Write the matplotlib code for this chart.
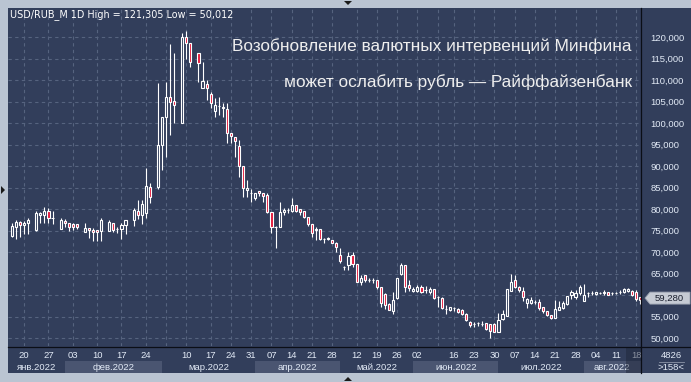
import matplotlib
matplotlib.use("Agg")
import matplotlib.pyplot as plt
from matplotlib.patches import Rectangle, Polygon
from matplotlib.lines import Line2D
from matplotlib.transforms import IdentityTransform

plt.rcParams['font.family'] = ['Liberation Sans', 'DejaVu Sans']

# daily candles, one slot per session; None = empty slot on the chart
opens = [73.7, 75.9, 76.9, 76.2, 76.7, None,
         75.0, 78.5, 78.5, 79.5, 77.8, None,
         75.4, 77.3, 76.7, 76.4, 76.4, None,
         74.7, 75.5, 75.1, 75.1, 74.9, None,
         74.9, 76.8, 75.3, 75.3, 76.2, None,
         77.5, 79.6, 78.5, 79.0, 85.2, None,
         85.2, 94.9, 101.3, 106.0, 105.1, None,
         100.1, 120.1, 118.5, None,
         116.2, 108.2, 109.0, 106.7, 102.9, 104.0, 103.4, 103.2, 97.7, 96.8,
         94.7, 89.9, 84.4, 83.7, 82.5, 84.3, 83.8, 83.3, 79.4, 75.9,
         75.75, 79.2, 79.8, 79.6, 80.9, 80.1, 79.5, 78.2, 76.4, 75.0,
         75.3, 73.1, 73.0, 72.8, 72.2, 69.3, 66.4, 67.0, 69.2, 67.2,
         63.1, 64.7, 63.5, 63.5, 63.5, 61.8, 60.2, 57.9, 56.3, 59.2,
         64.9, 67.0, 62.3, 61.0, 61.0, 61.8, 61.2, 60.8, 61.3, 59.5,
         59.2, 56.7, 56.5, 56.9, 56.7, 56.5, 55.6, 53.8, 53.3, 53.4,
         53.2, 53.4, 53.3, 53.3, 51.5, 54.4, 55.1, 61.0, 63.5, 61.9,
         61.0, 58.2, 58.2, 58.4, 58.4, 57.1, 56.3, 55.3, 54.6, 56.4,
         56.9, 57.9, 60.0, 59.5, 60.5, 58.5, 60.4, 60.5, 60.2, 60.5,
         60.4, 60.8, 60.4, 60.5, 60.8, 60.6, 61.0, 61.0, 60.8, 59.6]
highs = [76.8, 77.4, 77.3, 77.1, 77.8, None,
         79.6, 79.4, 80.4, 80.2, 79.5, None,
         77.8, 77.6, 76.8, 76.7, 76.6, None,
         76.8, 75.5, 75.5, 75.1, 77.8, None,
         77.4, 76.8, 75.7, 76.7, 77.4, None,
         80.2, 82.1, 82.1, 89.5, 86.0, None,
         109.2, 101.3, 109.6, 118.4, 116.2, None,
         120.9, 121.305, 118.5, None,
         116.2, 114.3, 110.0, 107.3, 105.7, 106.1, 104.7, 104.6, 97.7, 96.8,
         96.1, 89.9, 86.75, 84.6, 83.8, 84.3, 83.8, 83.8, 79.4, 76.0,
         81.7, 80.2, 80.2, 82.5, 80.9, 80.1, 79.5, 78.2, 76.4, 75.7,
         75.3, 73.2, 73.4, 72.8, 72.4, 70.9, 66.8, 70.1, 70.1, 67.2,
         64.7, 64.7, 63.9, 63.9, 63.6, 61.8, 60.4, 58.2, 60.8, 64.0,
         67.5, 67.0, 63.5, 61.9, 62.3, 62.3, 62.1, 61.8, 61.3, 59.8,
         59.6, 57.7, 57.3, 57.3, 56.9, 56.7, 55.7, 53.9, 53.8, 53.7,
         54.0, 53.4, 53.3, 53.4, 55.9, 56.5, 61.3, 64.9, 64.6, 62.1,
         61.8, 59.2, 59.5, 58.8, 59.0, 57.3, 56.3, 55.4, 58.8, 58.5,
         58.5, 59.8, 61.2, 61.2, 62.3, 62.6, 60.8, 61.0, 60.8, 60.8,
         61.2, 60.8, 60.6, 60.8, 61.2, 61.6, 61.6, 61.2, 61.2, 59.6]
lows = [73.6, 73.0, 73.6, 74.2, 74.3, None,
        75.0, 76.8, 76.7, 76.7, 76.5, None,
        75.4, 75.9, 74.9, 75.1, 75.3, None,
        74.7, 73.2, 72.6, 72.6, 72.6, None,
        74.9, 74.7, 74.4, 73.0, 74.3, None,
        76.0, 77.6, 76.4, 77.8, 81.5, None,
        84.6, 89.0, 92.0, 97.2, 99.9, None,
        100.1, 115.0, 113.0, None,
        109.6, 108.2, 105.4, 103.4, 101.5, 101.9, 101.5, 95.4, 95.4, 92.0,
        87.5, 82.9, 82.9, 81.7, 82.1, 83.0, 81.7, 79.0, 74.35, 71.0,
        75.75, 78.6, 79.0, 79.4, 79.4, 78.6, 78.0, 76.1, 73.6, 72.8,
        72.8, 72.0, 72.9, 72.0, 70.1, 67.5, 65.8, 65.8, 66.4, 63.1,
        62.3, 63.1, 63.1, 62.9, 61.5, 57.1, 56.7, 56.4, 55.6, 59.0,
        64.7, 60.8, 61.0, 60.8, 60.8, 60.4, 60.4, 60.2, 59.0, 57.1,
        56.7, 55.6, 56.3, 56.3, 55.9, 55.4, 54.0, 52.6, 52.6, 52.8,
        52.8, 51.9, 50.012, 51.3, 51.3, 54.2, 55.1, 61.0, 61.6, 60.6,
        58.5, 56.9, 57.9, 57.8, 56.5, 55.9, 55.1, 54.5, 54.6, 56.4,
        56.7, 57.7, 59.0, 59.0, 60.0, 58.5, 59.5, 60.0, 60.0, 60.2,
        60.0, 60.0, 60.0, 60.2, 60.2, 60.4, 60.8, 59.8, 58.5, 57.9]
closes = [76.1, 76.9, 76.2, 76.7, 77.5, None,
          79.1, 79.0, 79.5, 77.8, 77.9, None,
          77.5, 76.7, 75.9, 75.9, 75.7, None,
          75.5, 75.0, 74.7, 74.6, 77.5, None,
          76.9, 75.1, 75.35, 76.3, 77.4, None,
          79.8, 78.7, 81.2, 85.35, 82.9, None,
          94.9, 101.3, 106.0, 105.0, 104.3, None,
          120.1, 118.5, 114.3, None,
          113.9, 109.8, 108.2, 104.6, 104.3, 103.9, 103.8, 97.6, 97.0, 95.9,
          89.9, 84.8, 84.8, 83.65, 83.8, 83.8, 83.1, 79.2, 75.75, 75.8,
          79.2, 79.8, 79.8, 80.9, 79.6, 79.2, 78.2, 76.4, 74.5, 75.3,
          73.0, 73.05, 73.3, 72.0, 71.1, 67.8, 66.4, 69.1, 67.2, 63.1,
          63.9, 63.4, 63.5, 63.5, 61.8, 58.1, 57.7, 56.5, 58.8, 64.0,
          66.98, 61.9, 61.7, 61.5, 61.8, 60.8, 61.2, 61.3, 59.2, 59.5,
          56.9, 56.7, 57.1, 56.9, 56.1, 55.6, 54.2, 53.0, 53.3, 53.4,
          53.2, 52.0, 51.7, 51.5, 54.2, 55.6, 61.3, 63.1, 61.9, 61.2,
          59.5, 59.0, 58.8, 58.4, 56.9, 56.2, 55.4, 54.7, 56.8, 57.1,
          58.2, 59.8, 60.8, 60.4, 61.9, 60.0, 60.4, 60.5, 60.8, 60.5,
          60.8, 60.0, 60.4, 60.55, 60.8, 61.3, 61.3, 60.0, 59.0, 58.8]
last_price = 59.28

day_slots = [3, 9, 15, 21, 27, 33, 43, 49, 54, 59, 64, 69, 74, 79, 85, 90,
             95, 100, 109, 114, 119, 124, 129, 134, 139, 144, 149, 154]
day_labels = ['20', '27', '03', '10', '17', '24', '10', '17', '24', '31',
              '07', '14', '21', '28', '12', '19', '26', '02', '16', '23',
              '30', '07', '14', '21', '28', '04', '11', '18']
hidden_slots = [38, 105]
month_names = ['янв.2022', 'фев.2022', 'мар.2022', 'апр.2022',
               'май.2022', 'июн.2022', 'июл.2022', 'авг.2022']
month_start = [0, 13, 37, 60, 81, 99, 120, 141]

W, H = 691, 382
NAVY = '#323e5b'
FRAME = '#bac4d2'
RED = '#e3173a'
TXT = '#e2eaf6'

fig = plt.figure(figsize=(W / 100, H / 100), dpi=100, facecolor=FRAME)


def px_axes(x0, y0, x1, y1):
    return fig.add_axes([x0 / W, 1 - y1 / H, (x1 - x0) / W, (y1 - y0) / H])


def fmt(v):
    return f'{v:.3f}'.replace('.', ',')


bg = px_axes(8, 8, 691, 373)
bg.set_facecolor(NAVY)
bg.set_xticks([])
bg.set_yticks([])
for s in bg.spines.values():
    s.set_visible(False)

ax = px_axes(8, 8, 641, 346)
ax.set_facecolor('none')
for s in ax.spines.values():
    s.set_visible(False)

xlo, xhi = (8 - 12) / 4.054, (641 - 12) / 4.054
ax.set_xlim(xlo, xhi)
ax.set_ylim(120 - (346 - 37) / 4.3, 120 - (8 - 37) / 4.3)

# grid; the 60,000 label sits under the last-price box
yt = [50 + 5 * k for k in range(15)]
ax.set_yticks(yt)
ax.set_yticklabels(['' if abs(v - last_price) < 2 else fmt(v) for v in yt])
ax.yaxis.tick_right()
ax.tick_params(axis='y', length=0, pad=7, labelsize=6.8, labelcolor=TXT)
ax.set_xticks(sorted(day_slots + hidden_slots))
ax.tick_params(axis='x', length=0, labelbottom=False)
ax.grid(True, color='#56637f', linestyle=(0, (3, 3)), linewidth=0.8)
ax.set_axisbelow(True)

# candles
for i in range(len(opens)):
    o, h, l, c = opens[i], highs[i], lows[i], closes[i]
    if o is None:
        continue
    ax.vlines(i, l, h, color='white', linewidth=0.8, zorder=3)
    face = NAVY if c >= o else RED
    ax.add_patch(Rectangle((i - 0.26, min(o, c)), 0.52, abs(c - o),
                           facecolor=face, edgecolor='white',
                           linewidth=0.8, zorder=4))

# bottom date panel
bx = px_axes(8, 346, 641, 373)
bx.set_facecolor('none')
bx.set_xlim(xlo, xhi)
bx.set_ylim(27, 0)
bx.axis('off')
edges = month_start[1:] + [xhi]
left_edges = [xlo] + month_start[1:]
for k, name in enumerate(month_names):
    a, b = left_edges[k], edges[k]
    if k % 2 == 1:
        bx.add_patch(Rectangle((a, 15), b - a, 12, facecolor='#4a5571',
                               edgecolor='none', zorder=1))
    bx.text((a + b) / 2, 21, name, ha='center', va='center',
            fontsize=6.8, color=TXT, zorder=3)
for s, lab in zip(day_slots, day_labels):
    bx.text(s, 9.5, lab, ha='center', va='center', fontsize=6.8,
            color=TXT, zorder=3)
bx.add_patch(Rectangle(((626 - 12) / 4.054, 1), xhi, 26,
                       facecolor='#1d2436', alpha=0.45, edgecolor='none',
                       zorder=5))

# divider lines
fig.add_artist(Line2D([641 / W, 641 / W], [1 - 8 / H, 1 - 373 / H],
                      color='#0b0e16', linewidth=0.9))
fig.add_artist(Line2D([8 / W, 1], [1 - 346.5 / H, 1 - 346.5 / H],
                      color='#0b0e16', linewidth=0.9))

# last price marker
fig.canvas.draw()
yp = ax.transData.transform((0, last_price))[1]
fig.add_artist(Polygon([[645, yp], [650, yp + 6], [690, yp + 6],
                        [690, yp - 6], [650, yp - 6]], closed=True,
                       transform=IdentityTransform(), facecolor='#c6cbd4',
                       edgecolor='#9aa1b0', linewidth=0.6))
fig.text(669 / W, yp / H, fmt(last_price),
         ha='center', va='center', fontsize=6.8, color='#1a1f2e')

# lower right counters
fig.text(671 / W, 1 - 356 / H, '4826', ha='center', va='center',
         fontsize=6.8, color=TXT)
fig.add_artist(Line2D([659 / W, 684 / W], [1 - 361.5 / H, 1 - 361.5 / H],
                      color='#8c95a8', linewidth=0.6))
fig.text(671 / W, 1 - 368 / H, '>158<', ha='center', va='center',
         fontsize=6.8, color=TXT)

# titles
fig.text(10 / W, 1 - 15 / H,
         'USD/RUB_M 1D High = 121,305 Low = 50,012',
         ha='left', va='center', fontsize=6.9, color='white',
         family=['DejaVu Sans'])
fig.text(631 / W, 1 - 46 / H, 'Возобновление валютных интервенций Минфина',
         ha='right', va='center', fontsize=12.4, color='#eeeeee')
fig.text(632 / W, 1 - 82 / H, 'может ослабить рубль — Райффайзенбанк',
         ha='right', va='center', fontsize=12.4, color='#eeeeee')

# frame arrows
fig.add_artist(Polygon([[344, H - 1], [352, H - 1], [348, H - 5]],
                       transform=IdentityTransform(), facecolor='#1a1a1a'))
fig.add_artist(Polygon([[344, 1], [352, 1], [348, 5]],
                       transform=IdentityTransform(), facecolor='#1a1a1a'))
fig.add_artist(Polygon([[1, H - 186], [1, H - 194], [5, H - 190]],
                       transform=IdentityTransform(), facecolor='#1a1a1a'))

fig.savefig('out.png', dpi=100, facecolor=FRAME)
